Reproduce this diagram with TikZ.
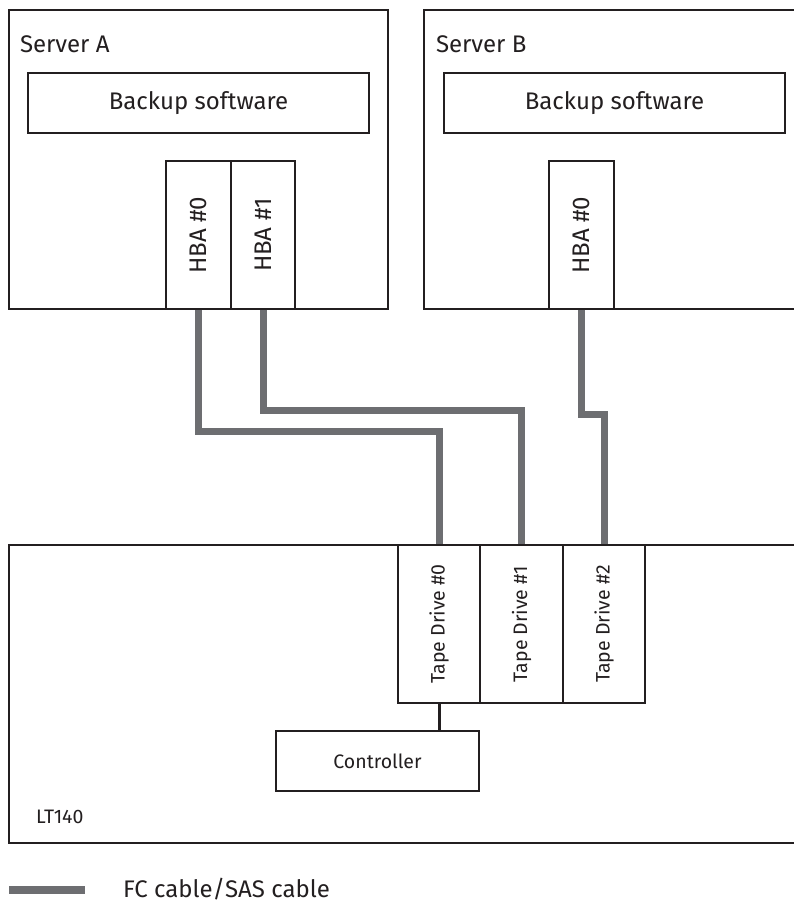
\documentclass[tikz,border=0pt]{standalone}
\usepackage{fontspec}
\setmainfont{Fira Sans}
\definecolor{linec}{HTML}{231F20}
\definecolor{cablec}{HTML}{6D6E71}
\begin{document}
\begin{tikzpicture}[x=1pt,y=-1pt,
  box/.style={draw=linec, line width=1.6pt, inner sep=0pt, outer sep=0pt, fill=white, text=linec},
  bigtxt/.style={font=\fontsize{24}{28}\selectfont},
  smalltxt/.style={font=\fontsize{19.5}{23}\selectfont},
  label/.style={inner sep=0pt, outer sep=0pt, text=linec},
  cable/.style={draw=cablec, line width=7pt, shorten <=0.8pt, shorten >=0.8pt},
  link/.style={draw=linec, line width=3pt, shorten <=0.8pt, shorten >=0.8pt}]
\useasboundingbox (0,0) rectangle (794,904);
\clip (0,0) rectangle (794,904);

% Servers
\node[box, minimum width=379pt, minimum height=299pt] (srvA) at (198.5,159.5) {};
\node[box, minimum width=380pt, minimum height=299pt] (srvB) at (614,159.5) {};
\node[label, bigtxt, anchor=base west] (srvAl) at (20,53) {Server A};
\node[label, bigtxt, anchor=base west] (srvBl) at (436,53) {Server B};

\node[box, bigtxt, minimum width=341pt, minimum height=60pt] (bsA) at (198.5,103) {Backup software};
\node[box, bigtxt, minimum width=341pt, minimum height=60pt] (bsB) at (614.5,103) {Backup software};

\node[box, bigtxt, minimum width=65pt, minimum height=148pt] (hA0) at (198.5,235) {\rotatebox{90}{HBA \#0}};
\node[box, bigtxt, minimum width=64pt, minimum height=148pt] (hA1) at (263,235) {\rotatebox{90}{HBA \#1}};
\node[box, bigtxt, minimum width=65pt, minimum height=148pt] (hB0) at (581.5,235) {\rotatebox{90}{HBA \#0}};

% Library
\node[box, minimum width=791pt, minimum height=298pt] (lib) at (404.5,694) {};
\node[label, smalltxt, anchor=base west] (libl) at (36,823) {LT140};

\node[box, smalltxt, minimum width=82pt, minimum height=158pt] (td0) at (439,624) {\rotatebox{90}{Tape Drive \#0}};
\node[box, smalltxt, minimum width=83pt, minimum height=158pt] (td1) at (521.5,624) {\rotatebox{90}{Tape Drive \#1}};
\node[box, smalltxt, minimum width=82pt, minimum height=158pt] (td2) at (604,624) {\rotatebox{90}{Tape Drive \#2}};

\node[box, smalltxt, minimum width=203pt, minimum height=60pt] (ctrl) at (377.5,761) {Controller};

% Cables
\draw[cable] (hA0.south) -- (hA0.south |- 0,431) -| (td0.north);
\draw[cable] (hA1.south) -- (hA1.south |- 0,410) -| (td1.north);
\draw[cable] (hB0.south) -- (hB0.south |- 0,414) -| (td2.north);

\draw[link] (td0.south) -- (td0.south |- ctrl.north);

% Legend
\coordinate (lg1) at (9,890);
\coordinate (lg2) at (85,890);
\draw[draw=cablec, line width=8.5pt] (lg1) -- (lg2);
\node[label, bigtxt, anchor=base west] (lgt) at (123,897) {FC cable/SAS cable};
\end{tikzpicture}
\end{document}
